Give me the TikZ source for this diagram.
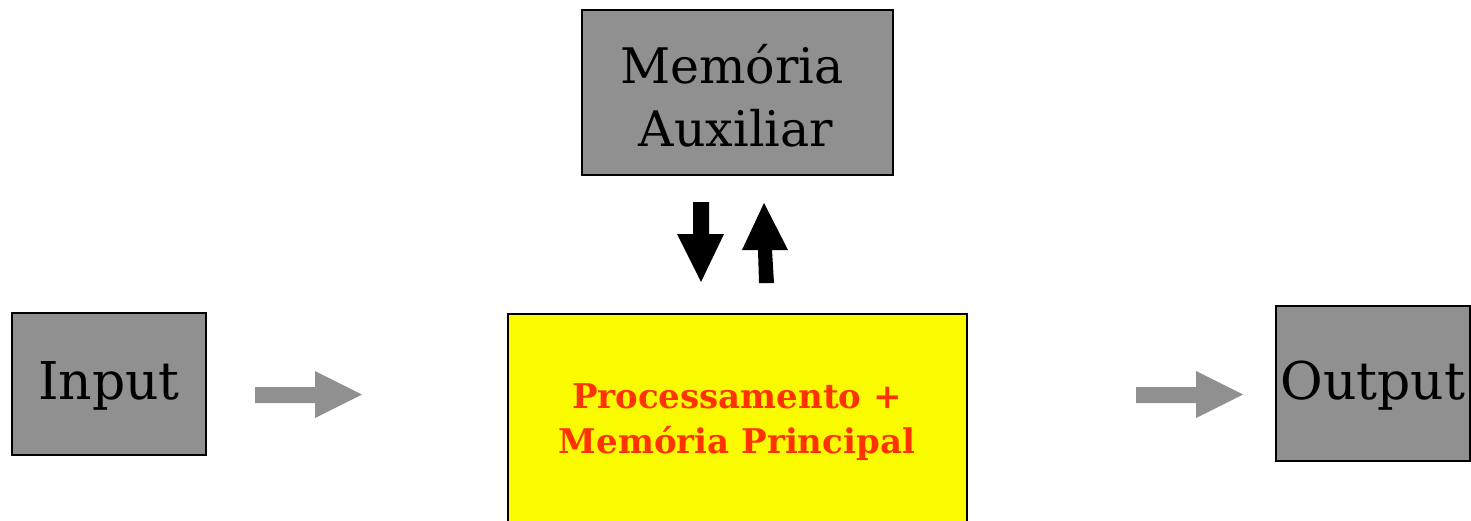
\documentclass[tikz,border=0pt]{standalone}
\usepackage{fontspec}
\setmainfont{DejaVu Serif}
\definecolor{boxgray}{HTML}{909090}
\definecolor{procyellow}{HTML}{FAFA00}
\definecolor{procred}{HTML}{FF3300}
\begin{document}
\begin{tikzpicture}[x=1pt,y=-1pt,
  graybox/.style={draw=black,line width=2pt,fill=boxgray,inner sep=0pt},
  bigtext/.style={font=\fontsize{52}{60}\selectfont,text=black,align=center},
  blockgray/.style={fill=boxgray},
  blockblack/.style={fill=black}]
\useasboundingbox (0,0) rectangle (1471,520);
% boxes
\draw[graybox] (582,10) rectangle (893,175);
\node[text=black,align=center,font=\fontsize{49}{63}\selectfont] (aux) at (732,96) {Memória\\\,Auxiliar};
\draw[graybox] (12,313) rectangle (206,455);
\node[bigtext] (in) at (109,386) {Input};
\draw[graybox] (1276,306) rectangle (1470,461);
\node[bigtext] (out) at (1373,386) {Output};
\draw[draw=black,line width=2pt,fill=procyellow] (508,314) -- (508,530) -- (967,530) -- (967,314) -- cycle;
\node[font=\bfseries\fontsize{34}{45}\selectfont,text=procred,align=center] (proc) at (737,422) {Processamento +\\Memória Principal};
% gray block arrows
\fill[blockgray] (255,387) -- (315,387) -- (315,371) -- (362,394.5) -- (315,418) -- (315,403) -- (255,403) -- cycle;
\fill[blockgray] (1136,387) -- (1196,387) -- (1196,371) -- (1243,394.5) -- (1196,418) -- (1196,403) -- (1136,403) -- cycle;
% black block arrows
\fill[blockblack] (693,202) -- (709,202) -- (709,234) -- (724,234) -- (701,282) -- (677,234) -- (693,234) -- cycle;
\fill[blockblack] (759,283) -- (774,283) -- (772,250) -- (788,250) -- (764,203) -- (742,250) -- (758,250) -- cycle;
\end{tikzpicture}
\end{document}
